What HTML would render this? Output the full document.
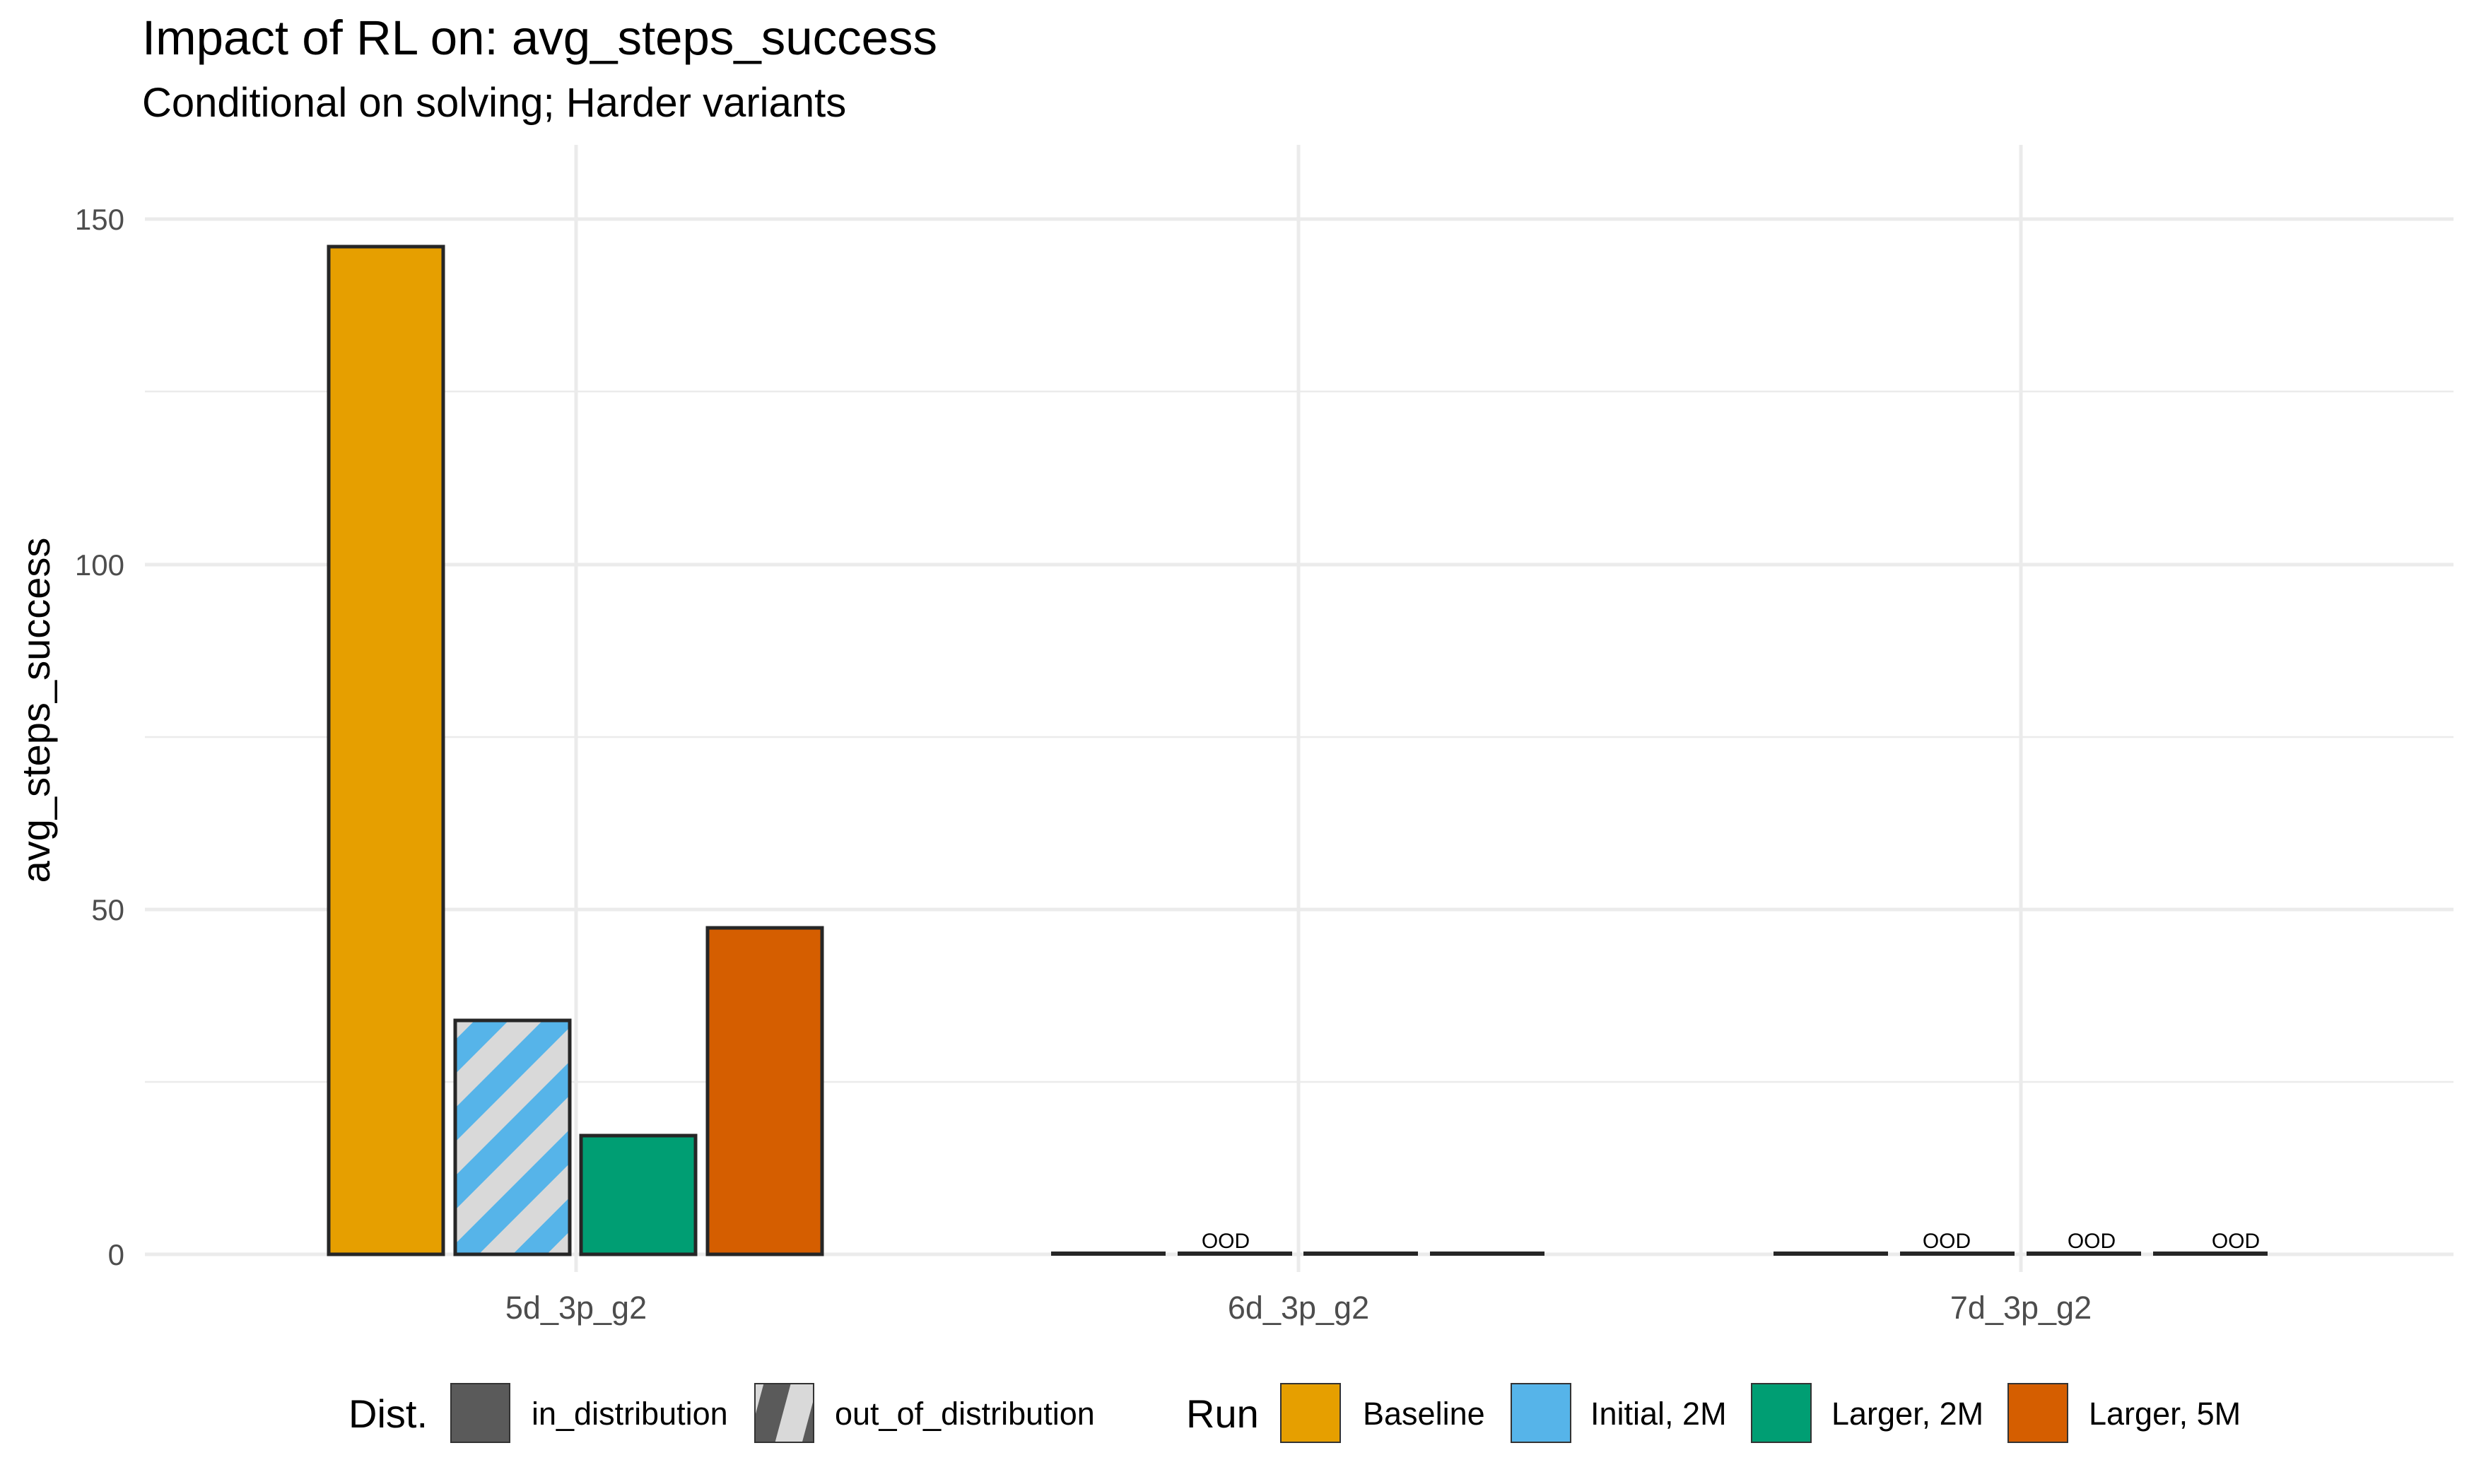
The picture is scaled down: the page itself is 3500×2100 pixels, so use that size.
<!DOCTYPE html>
<html><head><meta charset="utf-8"><style>
html,body{margin:0;padding:0;background:#fff;}
svg{display:block;}
text{font-family:"Liberation Sans",sans-serif;}
</style></head><body>
<svg width="3500" height="2100" viewBox="0 0 3500 2100" xmlns="http://www.w3.org/2000/svg">
<defs>
<pattern id="st" patternUnits="userSpaceOnUse" width="68" height="68" patternTransform="rotate(45)">
<rect width="68" height="68" fill="#d9d9d9"/>
<rect width="34" height="68" fill="#56b4e9"/>
</pattern>
<pattern id="st2" patternUnits="userSpaceOnUse" x="1068" y="1958" width="74" height="200" patternTransform="rotate(15 1068 1958)">
<rect width="74" height="200" fill="#5a5a5a"/>
<rect x="0" width="12" height="200" fill="#d9d9d9"/>
<rect x="49" width="25" height="200" fill="#d9d9d9"/>
</pattern>
</defs>
<rect width="3500" height="2100" fill="#fff"/>
<text x="201" y="77" font-size="69" fill="#000">Impact of RL on: avg_steps_success</text>
<text x="201" y="165" font-size="58" fill="#000">Conditional on solving; Harder variants</text>
<!-- grid -->
<g stroke="#ebebeb">
<g stroke-width="2.5">
<line x1="205" x2="3471" y1="1531" y2="1531"/>
<line x1="205" x2="3471" y1="1043" y2="1043"/>
<line x1="205" x2="3471" y1="554" y2="554"/>
</g>
<g stroke-width="5">
<line x1="205" x2="3471" y1="1775" y2="1775"/>
<line x1="205" x2="3471" y1="1287" y2="1287"/>
<line x1="205" x2="3471" y1="799" y2="799"/>
<line x1="205" x2="3471" y1="310" y2="310"/>
<line x1="815" x2="815" y1="205" y2="1800"/>
<line x1="1837" x2="1837" y1="205" y2="1800"/>
<line x1="2859" x2="2859" y1="205" y2="1800"/>
</g>
</g>
<!-- y ticks -->
<g font-size="42" fill="#4d4d4d" text-anchor="end">
<text x="176" y="1790">0</text>
<text x="176" y="1302">50</text>
<text x="176" y="814">100</text>
<text x="176" y="325">150</text>
</g>
<text transform="translate(70,1005) rotate(-90)" font-size="56" text-anchor="middle" fill="#000">avg_steps_success</text>
<!-- x ticks -->
<g font-size="45" fill="#4d4d4d" text-anchor="middle">
<text x="815" y="1866">5d_3p_g2</text>
<text x="1837" y="1866">6d_3p_g2</text>
<text x="2859" y="1866">7d_3p_g2</text>
</g>
<!-- bars -->
<g stroke="#262626" stroke-width="5">
<rect x="465" y="349" width="162" height="1426" fill="#e69f00"/>
<rect x="644" y="1444" width="162" height="331" fill="url(#st)"/>
<rect x="822" y="1607" width="162" height="168" fill="#009e73"/>
<rect x="1001" y="1313" width="162" height="462" fill="#d55e00"/>
</g>
<g fill="#262626">
<rect x="1487" y="1771" width="162" height="6"/>
<rect x="1666" y="1771" width="162" height="6"/>
<rect x="1844" y="1771" width="162" height="6"/>
<rect x="2023" y="1771" width="162" height="6"/>
<rect x="2509" y="1771" width="162" height="6"/>
<rect x="2688" y="1771" width="162" height="6"/>
<rect x="2867" y="1771" width="162" height="6"/>
<rect x="3046" y="1771" width="162" height="6"/>
</g>
<g font-size="30" fill="#000" text-anchor="middle">
<text x="1734" y="1766">OOD</text>
<text x="2754" y="1766">OOD</text>
<text x="2959" y="1766">OOD</text>
<text x="3163" y="1766">OOD</text>
</g>
<!-- legend -->
<text x="493" y="2020" font-size="56" fill="#000">Dist.</text>
<rect x="638" y="1958" width="83" height="83" fill="#5a5a5a" stroke="#333" stroke-width="2"/>
<text x="752" y="2016" font-size="45" fill="#000">in_distribution</text>
<rect x="1068" y="1958" width="83" height="83" fill="url(#st2)" stroke="#333" stroke-width="2"/>
<text x="1181" y="2016" font-size="45" fill="#000">out_of_distribution</text>
<text x="1678" y="2020" font-size="56" fill="#000">Run</text>
<rect x="1812" y="1958" width="84" height="83" fill="#e69f00" stroke="#333" stroke-width="2"/>
<text x="1928" y="2016" font-size="45" fill="#000">Baseline</text>
<rect x="2138" y="1958" width="84" height="83" fill="#56b4e9" stroke="#333" stroke-width="2"/>
<text x="2250" y="2016" font-size="45" fill="#000">Initial, 2M</text>
<rect x="2478" y="1958" width="84" height="83" fill="#009e73" stroke="#333" stroke-width="2"/>
<text x="2591" y="2016" font-size="45" fill="#000">Larger, 2M</text>
<rect x="2841" y="1958" width="84" height="83" fill="#d55e00" stroke="#333" stroke-width="2"/>
<text x="2955" y="2016" font-size="45" fill="#000">Larger, 5M</text>
</svg>
</body></html>
